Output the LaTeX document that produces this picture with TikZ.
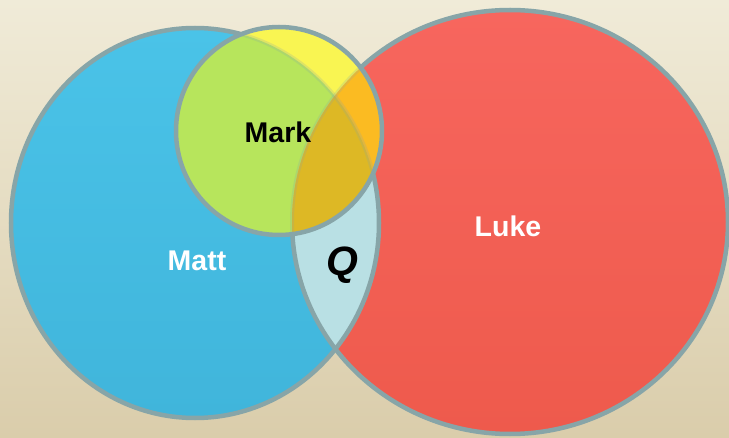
\documentclass[tikz,border=0pt]{standalone}
\usepackage{fontspec}
\setmainfont{Liberation Sans}
\definecolor{bgtop}{HTML}{F0EBD8}
\definecolor{bgbot}{HTML}{DACDAB}
\definecolor{matttop}{HTML}{4AC3E8}
\definecolor{mattbot}{HTML}{40B5DB}
\definecolor{luketop}{HTML}{F7665E}
\definecolor{lukebot}{HTML}{EE5A4C}
\definecolor{qcol}{HTML}{B9E0E4}
\definecolor{markyel}{HTML}{F9F552}
\definecolor{markgrn}{HTML}{B7E55C}
\definecolor{markora}{HTML}{FBBB22}
\definecolor{markgold}{HTML}{DDB825}
\definecolor{edge}{HTML}{87A5A8}
\tikzset{
  border/.style={draw=edge,line width=4.5pt},
  faint/.style={draw=edge,line width=4pt,opacity=0.22},
  lbl/.style={font=\fontsize{28.5}{31}\selectfont\bfseries,inner sep=0pt}
}
\def\mattpath{(195,214) ellipse [x radius=184pt, y radius=195pt]}
\def\lukepath{(510,215) ellipse [x radius=218pt, y radius=212pt]}
\def\markpath{(279,306) ellipse [x radius=103pt, y radius=104pt]}
\begin{document}
\begin{tikzpicture}[x=1pt,y=1pt]
\useasboundingbox (0,0) rectangle (729,437);
\shade[top color=bgtop,bottom color=bgbot] (0,0) rectangle (729,437);
% Matt and Luke
\shade[top color=matttop,bottom color=mattbot] \mattpath;
\shade[top color=luketop,bottom color=lukebot] \lukepath;
% Q region
\begin{scope}
  \clip \mattpath;
  \fill[qcol] \lukepath;
\end{scope}
\path[border] \mattpath;
\path[border] \lukepath;
% Mark regions
\fill[markyel] \markpath;
\begin{scope}
  \clip \markpath;
  \fill[markgrn] \mattpath;
  \fill[markora] \lukepath;
  \clip \mattpath;
  \fill[markgold] \lukepath;
\end{scope}
\begin{scope}
  \clip \markpath;
  \path[faint] \mattpath;
  \path[faint] \lukepath;
\end{scope}
\path[border] \markpath;
% labels
\node[lbl,text=black] (mark) at (278,305) {Mark};
\node[lbl,text=white] (matt) at (197,176) {Matt};
\node[lbl,text=white] (luke) at (508,211) {Luke};
\node[lbl,text=black,font=\fontsize{41}{44}\selectfont\bfseries\itshape] (q) at (342,172) {Q};
\end{tikzpicture}
\end{document}
